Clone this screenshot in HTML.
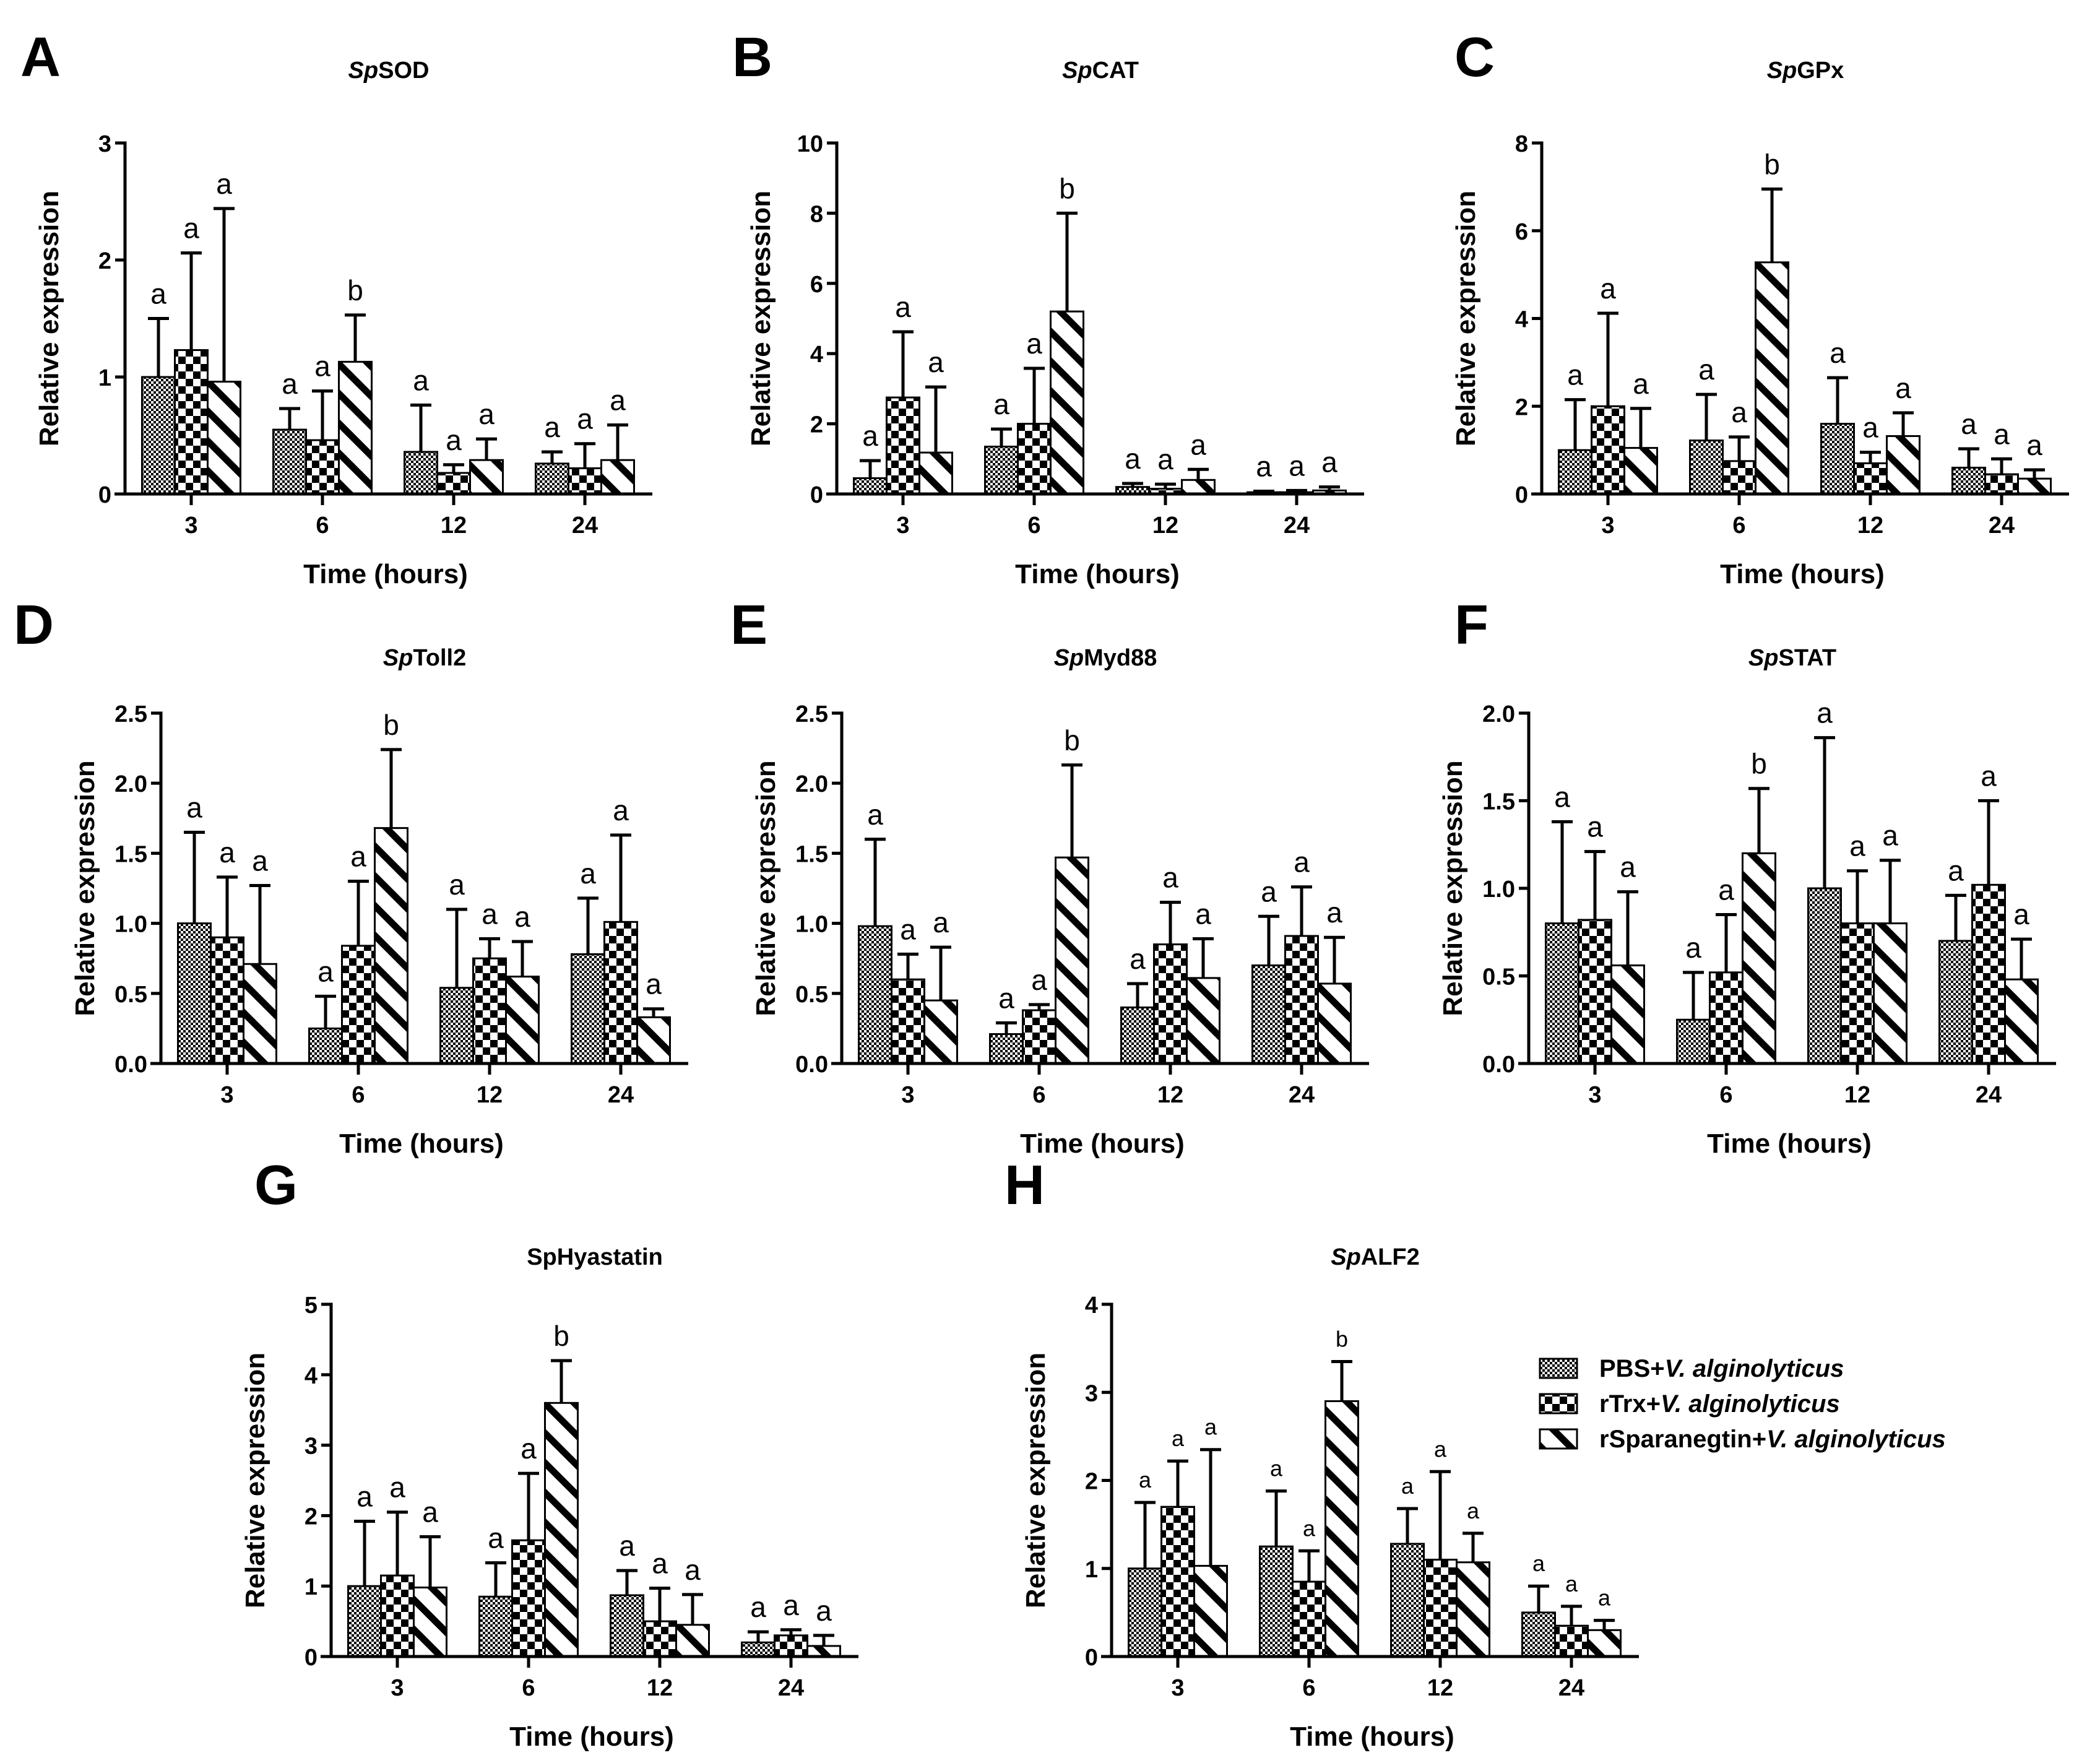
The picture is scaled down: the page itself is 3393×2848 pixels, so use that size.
<!DOCTYPE html>
<html><head><meta charset="utf-8"><style>
html,body{margin:0;padding:0;background:#fff;}
svg{display:block;font-family:"Liberation Sans",Arial,sans-serif;}
</style></head><body>
<svg id="fig" width="3393" height="2848" viewBox="0 0 3393 2848" xmlns="http://www.w3.org/2000/svg">
<defs>
<pattern id="patPBS" width="8" height="8" patternUnits="userSpaceOnUse">
<rect width="8" height="8" fill="#fff"/><rect width="4" height="4" fill="#000"/><rect x="4" y="4" width="4" height="4" fill="#000"/>
</pattern>
<pattern id="patTrx" width="24" height="24" patternUnits="userSpaceOnUse">
<rect width="24" height="24" fill="#fff"/><rect width="12" height="12" fill="#000"/><rect x="12" y="12" width="12" height="12" fill="#000"/>
</pattern>
<pattern id="patSpa" width="34" height="34" patternUnits="userSpaceOnUse" patternTransform="rotate(-45)">
<rect width="34" height="34" fill="#fff"/><rect width="11" height="34" fill="#000"/>
</pattern>
</defs>
<g id="panels"></g>
<g id="legend"></g>
</svg>
<script>
const categories = ['3','6','12','24'];
const seriesNames = ['PBS+V. alginolyticus','rTrx+V. alginolyticus','rSparanegtin+V. alginolyticus'];

// A SpSOD
const A_pbs = [1.0, 0.55, 0.36, 0.26];
const A_pbsErr = [1.5, 0.73, 0.76, 0.36];
const A_trx = [1.23, 0.46, 0.18, 0.22];
const A_trxErr = [2.06, 0.88, 0.25, 0.43];
const A_spa = [0.96, 1.13, 0.29, 0.29];
const A_spaErr = [2.44, 1.53, 0.47, 0.59];
const A_sig = ['a','a','a','a','a','b','a','a','a','a','a','a'];
// B SpCAT
const B_pbs = [0.45, 1.35, 0.2, 0.05];
const B_pbsErr = [0.95, 1.85, 0.3, 0.08];
const B_trx = [2.75, 2.0, 0.15, 0.05];
const B_trxErr = [4.62, 3.58, 0.28, 0.1];
const B_spa = [1.18, 5.2, 0.4, 0.1];
const B_spaErr = [3.05, 8.0, 0.7, 0.2];
const B_sig = ['a','a','a','a','a','b','a','a','a','a','a','a'];
// C SpGPx
const C_pbs = [1.0, 1.22, 1.6, 0.6];
const C_pbsErr = [2.15, 2.27, 2.65, 1.03];
const C_trx = [2.0, 0.75, 0.7, 0.45];
const C_trxErr = [4.12, 1.3, 0.95, 0.8];
const C_spa = [1.05, 5.28, 1.32, 0.35];
const C_spaErr = [1.95, 6.95, 1.85, 0.55];
const C_sig = ['a','a','a','a','a','b','a','a','a','a','a','a'];
// D SpToll2
const D_pbs = [1.0, 0.25, 0.54, 0.78];
const D_pbsErr = [1.65, 0.48, 1.1, 1.18];
const D_trx = [0.9, 0.84, 0.75, 1.01];
const D_trxErr = [1.33, 1.3, 0.89, 1.63];
const D_spa = [0.71, 1.68, 0.62, 0.33];
const D_spaErr = [1.27, 2.24, 0.87, 0.39];
const D_sig = ['a','a','a','a','a','b','a','a','a','a','a','a'];
// E SpMyd88
const E_pbs = [0.98, 0.21, 0.4, 0.7];
const E_pbsErr = [1.6, 0.29, 0.57, 1.05];
const E_trx = [0.6, 0.38, 0.85, 0.91];
const E_trxErr = [0.78, 0.42, 1.15, 1.26];
const E_spa = [0.45, 1.47, 0.61, 0.57];
const E_spaErr = [0.83, 2.13, 0.89, 0.9];
const E_sig = ['a','a','a','a','a','b','a','a','a','a','a','a'];
// F SpSTAT
const F_pbs = [0.8, 0.25, 1.0, 0.7];
const F_pbsErr = [1.38, 0.52, 1.86, 0.96];
const F_trx = [0.82, 0.52, 0.8, 1.02];
const F_trxErr = [1.21, 0.85, 1.1, 1.5];
const F_spa = [0.56, 1.2, 0.8, 0.48];
const F_spaErr = [0.98, 1.57, 1.16, 0.71];
const F_sig = ['a','a','a','a','a','b','a','a','a','a','a','a'];
// G SpHyastatin
const G_pbs = [1.0, 0.85, 0.87, 0.2];
const G_pbsErr = [1.92, 1.33, 1.22, 0.35];
const G_trx = [1.15, 1.65, 0.5, 0.3];
const G_trxErr = [2.05, 2.6, 0.97, 0.38];
const G_spa = [0.98, 3.6, 0.45, 0.15];
const G_spaErr = [1.7, 4.2, 0.88, 0.3];
const G_sig = ['a','a','a','a','a','b','a','a','a','a','a','a'];
// H SpALF2
const H_pbs = [1.0, 1.25, 1.28, 0.5];
const H_pbsErr = [1.75, 1.88, 1.68, 0.8];
const H_trx = [1.7, 0.85, 1.1, 0.35];
const H_trxErr = [2.22, 1.2, 2.1, 0.57];
const H_spa = [1.03, 2.9, 1.07, 0.3];
const H_spaErr = [2.35, 3.35, 1.4, 0.41];
const H_sig = ['a','a','a','a','a','b','a','a','a','a','a','a'];

const A_ticks = ['0','1','2','3'];
const B_ticks = ['0','2','4','6','8','10'];
const C_ticks = ['0','2','4','6','8'];
const D_ticks = ['0.0','0.5','1.0','1.5','2.0','2.5'];
const E_ticks = ['0.0','0.5','1.0','1.5','2.0','2.5'];
const F_ticks = ['0.0','0.5','1.0','1.5','2.0'];
const G_ticks = ['0','1','2','3','4','5'];
const H_ticks = ['0','1','2','3','4'];

const panels = [
 {key:'A',gene:'SOD',sp:true,ax:202,y0:798,top:231,ticks:A_ticks,m:[A_pbs,A_trx,A_spa],e:[A_pbsErr,A_trxErr,A_spaErr],sig:A_sig,lx:33,ly:123,ty:126,sigSize:46},
 {key:'B',gene:'CAT',sp:true,ax:1352,y0:798,top:231,ticks:B_ticks,m:[B_pbs,B_trx,B_spa],e:[B_pbsErr,B_trxErr,B_spaErr],sig:B_sig,lx:1183,ly:123,ty:126,sigSize:46},
 {key:'C',gene:'GPx',sp:true,ax:2491,y0:798,top:231,ticks:C_ticks,m:[C_pbs,C_trx,C_spa],e:[C_pbsErr,C_trxErr,C_spaErr],sig:C_sig,lx:2350,ly:123,ty:126,sigSize:46},
 {key:'D',gene:'Toll2',sp:true,ax:260,y0:1718,top:1152,ticks:D_ticks,m:[D_pbs,D_trx,D_spa],e:[D_pbsErr,D_trxErr,D_spaErr],sig:D_sig,lx:22,ly:1040,ty:1075,sigSize:46},
 {key:'E',gene:'Myd88',sp:true,ax:1360,y0:1718,top:1152,ticks:E_ticks,m:[E_pbs,E_trx,E_spa],e:[E_pbsErr,E_trxErr,E_spaErr],sig:E_sig,lx:1180,ly:1040,ty:1075,sigSize:46},
 {key:'F',gene:'STAT',sp:true,ax:2470,y0:1718,top:1152,ticks:F_ticks,m:[F_pbs,F_trx,F_spa],e:[F_pbsErr,F_trxErr,F_spaErr],sig:F_sig,lx:2350,ly:1040,ty:1075,sigSize:46},
 {key:'G',gene:'SpHyastatin',sp:false,ax:535,y0:2676,top:2107,ticks:G_ticks,m:[G_pbs,G_trx,G_spa],e:[G_pbsErr,G_trxErr,G_spaErr],sig:G_sig,lx:411,ly:1945,ty:2043,sigSize:46},
 {key:'H',gene:'ALF2',sp:true,ax:1796,y0:2676,top:2107,ticks:H_ticks,m:[H_pbs,H_trx,H_spa],e:[H_pbsErr,H_trxErr,H_spaErr],sig:H_sig,lx:1623,ly:1945,ty:2043,sigSize:36}
];
const fills = ['url(#patPBS)','url(#patTrx)','url(#patSpa)'];
const seriesKeys = ['pbs','trx','spa'];
const NS = 'http://www.w3.org/2000/svg';
function mk(tag, attrs, parent){
  const el = document.createElementNS(NS, tag);
  for (const k in attrs) el.setAttribute(k, attrs[k]);
  if (parent) parent.appendChild(el);
  return el;
}
const root = document.getElementById('panels');
panels.forEach(p => {
  const g = mk('g', {}, root);
  
  
  const maxV = parseFloat(p.ticks[p.ticks.length - 1]);
  const yScale = v => p.y0 - (v / maxV) * (p.y0 - p.top);
  const xBand = i => p.ax + 107 + 212 * i;
  const plotW = 852;
  const L = mk('text', {x:p.lx, y:p.ly, 'font-size':90, 'font-weight':'bold'}, g);
  L.textContent = p.key;
  
  
  const T = mk('text', {x:p.ax + plotW/2, y:p.ty, 'font-size':38, 'font-weight':'bold', 'text-anchor':'middle'}, g);
  
  
  if (p.sp) {
    const t1 = mk('tspan', {'font-style':'italic'}, T); t1.textContent = 'Sp';
    const t2 = mk('tspan', {}, T); t2.textContent = p.gene;
  } else { T.textContent = p.gene; }
  for (let s = 0; s < 3; s++) {
    for (let i = 0; i < categories.length; i++) {
      const cx = xBand(i) + (s - 1) * 53;
      const v = p.m[s][i], ev = p.e[s][i];
      const yv = yScale(v), ye = yScale(ev);
      const eb = mk('line', {x1:cx, x2:cx, y1:yv, y2:ye, stroke:'#000', 'stroke-width':5}, g);
      
      
      const cap = mk('line', {x1:cx-17, x2:cx+17, y1:ye, y2:ye, stroke:'#000', 'stroke-width':5}, g);
      
      
      const r = mk('rect', {x:cx-26.5, y:yv, width:53, height:p.y0 - yv, fill:fills[s], stroke:'#000', 'stroke-width':3}, g);
      
      
      const sl = mk('text', {x:cx, y:ye - 24, 'font-size':p.sigSize, 'text-anchor':'middle'}, g);
      sl.textContent = p.sig[i*3 + s];
      
      
    }
  }
  const ya = mk('line', {x1:p.ax, x2:p.ax, y1:p.top - 2.5, y2:p.y0, stroke:'#000', 'stroke-width':5}, g);
  
  
  const xa = mk('line', {x1:p.ax - 17, x2:p.ax + plotW, y1:p.y0, y2:p.y0, stroke:'#000', 'stroke-width':5}, g);
  
  
  p.ticks.forEach(t => {
    const y = yScale(parseFloat(t));
    mk('line', {x1:p.ax - 16, x2:p.ax, y1:y, y2:y, stroke:'#000', 'stroke-width':5}, g);
    const tl = mk('text', {x:p.ax - 22, y:y + 14, 'font-size':38, 'font-weight':'bold', 'text-anchor':'end'}, g);
    tl.textContent = t;
    
    
  });
  categories.forEach((c, i) => {
    const x = xBand(i);
    mk('line', {x1:x, x2:x, y1:p.y0, y2:p.y0 + 18, stroke:'#000', 'stroke-width':5}, g);
    const tl = mk('text', {x:x, y:p.y0 + 63, 'font-size':38, 'font-weight':'bold', 'text-anchor':'middle'}, g);
    tl.textContent = c;
    
    
  });
  const xt = mk('text', {x:p.ax + plotW/2 - 5, y:p.y0 + 144, 'font-size':44, 'font-weight':'bold', 'text-anchor':'middle'}, g);
  xt.textContent = 'Time (hours)';
  
  
  const cy = (p.y0 + p.top) / 2;
  const yx = p.ax - 108;
  const yt = mk('text', {x:yx, y:cy, 'font-size':44, 'font-weight':'bold', 'text-anchor':'middle', transform:'rotate(-90 ' + yx + ' ' + cy + ')'}, g);
  yt.textContent = 'Relative expression';
  
  
});
const lg = document.getElementById('legend');
const legendY = [2195, 2252, 2309];
seriesNames.forEach((n, s) => {
  const eg = mk('g', {}, lg);
  
  
  mk('rect', {x:2488, y:legendY[s], width:60, height:31, fill:fills[s], stroke:'#000', 'stroke-width':3}, eg);
  const t = mk('text', {x:2584, y:legendY[s] + 29, 'font-size':40, 'font-weight':'bold'}, eg);
  const parts = n.split('+');
  const t1 = mk('tspan', {}, t); t1.textContent = parts[0] + '+';
  const t2 = mk('tspan', {'font-style':'italic'}, t); t2.textContent = 'V. alginolyticus';
});
</script>
</body></html>
